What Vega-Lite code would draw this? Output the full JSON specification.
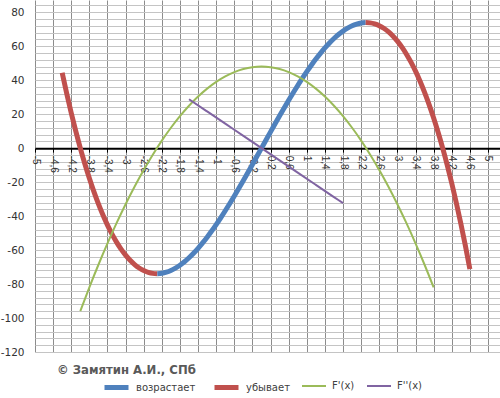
{
  "$schema": "https://vega.github.io/schema/vega-lite/v6.json",
  "autosize": "none",
  "width": 465,
  "height": 352,
  "padding": {"left": 35, "top": 0, "right": 0, "bottom": 46},
  "background": "white",
  "config": {
    "view": {"stroke": null},
    "font": "DejaVu Sans"
  },
  "title": {
    "text": "© Замятин А.И., СПб",
    "orient": "bottom",
    "anchor": "start",
    "frame": "group",
    "offset": -33,
    "dx": 22,
    "fontSize": 11.7,
    "fontWeight": "bold",
    "color": "#595959",
    "font": "DejaVu Sans"
  },
  "data": {
    "values": [
      {"x": -4.4, "y": 44.35, "s": "убывает", "g": "a"},
      {"x": -4.3, "y": 32.12, "s": "убывает", "g": "a"},
      {"x": -4.2, "y": 20.66, "s": "убывает", "g": "a"},
      {"x": -4.1, "y": 9.96, "s": "убывает", "g": "a"},
      {"x": -4.0, "y": 0, "s": "убывает", "g": "a"},
      {"x": -3.9, "y": -9.24, "s": "убывает", "g": "a"},
      {"x": -3.8, "y": -17.78, "s": "убывает", "g": "a"},
      {"x": -3.7, "y": -25.64, "s": "убывает", "g": "a"},
      {"x": -3.6, "y": -32.83, "s": "убывает", "g": "a"},
      {"x": -3.5, "y": -39.38, "s": "убывает", "g": "a"},
      {"x": -3.4, "y": -45.29, "s": "убывает", "g": "a"},
      {"x": -3.3, "y": -50.59, "s": "убывает", "g": "a"},
      {"x": -3.2, "y": -55.3, "s": "убывает", "g": "a"},
      {"x": -3.1, "y": -59.43, "s": "убывает", "g": "a"},
      {"x": -3.0, "y": -63, "s": "убывает", "g": "a"},
      {"x": -2.9, "y": -66.03, "s": "убывает", "g": "a"},
      {"x": -2.8, "y": -68.54, "s": "убывает", "g": "a"},
      {"x": -2.7, "y": -70.55, "s": "убывает", "g": "a"},
      {"x": -2.6, "y": -72.07, "s": "убывает", "g": "a"},
      {"x": -2.5, "y": -73.13, "s": "убывает", "g": "a"},
      {"x": -2.4, "y": -73.73, "s": "убывает", "g": "a"},
      {"x": -2.3, "y": -73.9, "s": "убывает", "g": "a"},
      {"x": -2.3, "y": -73.9, "s": "возрастает", "g": "b"},
      {"x": -2.2, "y": -73.66, "s": "возрастает", "g": "b"},
      {"x": -2.1, "y": -73.02, "s": "возрастает", "g": "b"},
      {"x": -2.0, "y": -72, "s": "возрастает", "g": "b"},
      {"x": -1.9, "y": -70.62, "s": "возрастает", "g": "b"},
      {"x": -1.8, "y": -68.9, "s": "возрастает", "g": "b"},
      {"x": -1.7, "y": -66.86, "s": "возрастает", "g": "b"},
      {"x": -1.6, "y": -64.51, "s": "возрастает", "g": "b"},
      {"x": -1.5, "y": -61.88, "s": "возрастает", "g": "b"},
      {"x": -1.4, "y": -58.97, "s": "возрастает", "g": "b"},
      {"x": -1.3, "y": -55.81, "s": "возрастает", "g": "b"},
      {"x": -1.2, "y": -52.42, "s": "возрастает", "g": "b"},
      {"x": -1.1, "y": -48.81, "s": "возрастает", "g": "b"},
      {"x": -1.0, "y": -45, "s": "возрастает", "g": "b"},
      {"x": -0.9, "y": -41.01, "s": "возрастает", "g": "b"},
      {"x": -0.8, "y": -36.86, "s": "возрастает", "g": "b"},
      {"x": -0.7, "y": -32.57, "s": "возрастает", "g": "b"},
      {"x": -0.6, "y": -28.15, "s": "возрастает", "g": "b"},
      {"x": -0.5, "y": -23.63, "s": "возрастает", "g": "b"},
      {"x": -0.4, "y": -19.01, "s": "возрастает", "g": "b"},
      {"x": -0.3, "y": -14.32, "s": "возрастает", "g": "b"},
      {"x": -0.2, "y": -9.58, "s": "возрастает", "g": "b"},
      {"x": -0.1, "y": -4.8, "s": "возрастает", "g": "b"},
      {"x": 0.0, "y": 0, "s": "возрастает", "g": "b"},
      {"x": 0.1, "y": 4.8, "s": "возрастает", "g": "b"},
      {"x": 0.2, "y": 9.58, "s": "возрастает", "g": "b"},
      {"x": 0.3, "y": 14.32, "s": "возрастает", "g": "b"},
      {"x": 0.4, "y": 19.01, "s": "возрастает", "g": "b"},
      {"x": 0.5, "y": 23.63, "s": "возрастает", "g": "b"},
      {"x": 0.6, "y": 28.15, "s": "возрастает", "g": "b"},
      {"x": 0.7, "y": 32.57, "s": "возрастает", "g": "b"},
      {"x": 0.8, "y": 36.86, "s": "возрастает", "g": "b"},
      {"x": 0.9, "y": 41.01, "s": "возрастает", "g": "b"},
      {"x": 1.0, "y": 45, "s": "возрастает", "g": "b"},
      {"x": 1.1, "y": 48.81, "s": "возрастает", "g": "b"},
      {"x": 1.2, "y": 52.42, "s": "возрастает", "g": "b"},
      {"x": 1.3, "y": 55.81, "s": "возрастает", "g": "b"},
      {"x": 1.4, "y": 58.97, "s": "возрастает", "g": "b"},
      {"x": 1.5, "y": 61.88, "s": "возрастает", "g": "b"},
      {"x": 1.6, "y": 64.51, "s": "возрастает", "g": "b"},
      {"x": 1.7, "y": 66.86, "s": "возрастает", "g": "b"},
      {"x": 1.8, "y": 68.9, "s": "возрастает", "g": "b"},
      {"x": 1.9, "y": 70.62, "s": "возрастает", "g": "b"},
      {"x": 2.0, "y": 72, "s": "возрастает", "g": "b"},
      {"x": 2.1, "y": 73.02, "s": "возрастает", "g": "b"},
      {"x": 2.2, "y": 73.66, "s": "возрастает", "g": "b"},
      {"x": 2.3, "y": 73.9, "s": "возрастает", "g": "b"},
      {"x": 2.3, "y": 73.9, "s": "убывает", "g": "c"},
      {"x": 2.4, "y": 73.73, "s": "убывает", "g": "c"},
      {"x": 2.5, "y": 73.13, "s": "убывает", "g": "c"},
      {"x": 2.6, "y": 72.07, "s": "убывает", "g": "c"},
      {"x": 2.7, "y": 70.55, "s": "убывает", "g": "c"},
      {"x": 2.8, "y": 68.54, "s": "убывает", "g": "c"},
      {"x": 2.9, "y": 66.03, "s": "убывает", "g": "c"},
      {"x": 3.0, "y": 63, "s": "убывает", "g": "c"},
      {"x": 3.1, "y": 59.43, "s": "убывает", "g": "c"},
      {"x": 3.2, "y": 55.3, "s": "убывает", "g": "c"},
      {"x": 3.3, "y": 50.59, "s": "убывает", "g": "c"},
      {"x": 3.4, "y": 45.29, "s": "убывает", "g": "c"},
      {"x": 3.5, "y": 39.38, "s": "убывает", "g": "c"},
      {"x": 3.6, "y": 32.83, "s": "убывает", "g": "c"},
      {"x": 3.7, "y": 25.64, "s": "убывает", "g": "c"},
      {"x": 3.8, "y": 17.78, "s": "убывает", "g": "c"},
      {"x": 3.9, "y": 9.24, "s": "убывает", "g": "c"},
      {"x": 4.0, "y": 0, "s": "убывает", "g": "c"},
      {"x": 4.1, "y": -9.96, "s": "убывает", "g": "c"},
      {"x": 4.2, "y": -20.66, "s": "убывает", "g": "c"},
      {"x": 4.3, "y": -32.12, "s": "убывает", "g": "c"},
      {"x": 4.4, "y": -44.35, "s": "убывает", "g": "c"},
      {"x": 4.5, "y": -57.38, "s": "убывает", "g": "c"},
      {"x": 4.6, "y": -71.21, "s": "убывает", "g": "c"},
      {"x": -4.0, "y": -96, "s": "F'(x)", "g": "d"},
      {"x": -3.8, "y": -81.96, "s": "F'(x)", "g": "d"},
      {"x": -3.6, "y": -68.64, "s": "F'(x)", "g": "d"},
      {"x": -3.4, "y": -56.04, "s": "F'(x)", "g": "d"},
      {"x": -3.2, "y": -44.16, "s": "F'(x)", "g": "d"},
      {"x": -3.0, "y": -33, "s": "F'(x)", "g": "d"},
      {"x": -2.8, "y": -22.56, "s": "F'(x)", "g": "d"},
      {"x": -2.6, "y": -12.84, "s": "F'(x)", "g": "d"},
      {"x": -2.4, "y": -3.84, "s": "F'(x)", "g": "d"},
      {"x": -2.2, "y": 4.44, "s": "F'(x)", "g": "d"},
      {"x": -2.0, "y": 12, "s": "F'(x)", "g": "d"},
      {"x": -1.8, "y": 18.84, "s": "F'(x)", "g": "d"},
      {"x": -1.6, "y": 24.96, "s": "F'(x)", "g": "d"},
      {"x": -1.4, "y": 30.36, "s": "F'(x)", "g": "d"},
      {"x": -1.2, "y": 35.04, "s": "F'(x)", "g": "d"},
      {"x": -1.0, "y": 39, "s": "F'(x)", "g": "d"},
      {"x": -0.8, "y": 42.24, "s": "F'(x)", "g": "d"},
      {"x": -0.6, "y": 44.76, "s": "F'(x)", "g": "d"},
      {"x": -0.4, "y": 46.56, "s": "F'(x)", "g": "d"},
      {"x": -0.2, "y": 47.64, "s": "F'(x)", "g": "d"},
      {"x": 0.0, "y": 48, "s": "F'(x)", "g": "d"},
      {"x": 0.2, "y": 47.64, "s": "F'(x)", "g": "d"},
      {"x": 0.4, "y": 46.56, "s": "F'(x)", "g": "d"},
      {"x": 0.6, "y": 44.76, "s": "F'(x)", "g": "d"},
      {"x": 0.8, "y": 42.24, "s": "F'(x)", "g": "d"},
      {"x": 1.0, "y": 39, "s": "F'(x)", "g": "d"},
      {"x": 1.2, "y": 35.04, "s": "F'(x)", "g": "d"},
      {"x": 1.4, "y": 30.36, "s": "F'(x)", "g": "d"},
      {"x": 1.6, "y": 24.96, "s": "F'(x)", "g": "d"},
      {"x": 1.8, "y": 18.84, "s": "F'(x)", "g": "d"},
      {"x": 2.0, "y": 12, "s": "F'(x)", "g": "d"},
      {"x": 2.2, "y": 4.44, "s": "F'(x)", "g": "d"},
      {"x": 2.4, "y": -3.84, "s": "F'(x)", "g": "d"},
      {"x": 2.6, "y": -12.84, "s": "F'(x)", "g": "d"},
      {"x": 2.8, "y": -22.56, "s": "F'(x)", "g": "d"},
      {"x": 3.0, "y": -33, "s": "F'(x)", "g": "d"},
      {"x": 3.2, "y": -44.16, "s": "F'(x)", "g": "d"},
      {"x": 3.4, "y": -56.04, "s": "F'(x)", "g": "d"},
      {"x": 3.6, "y": -68.64, "s": "F'(x)", "g": "d"},
      {"x": 3.8, "y": -81.96, "s": "F'(x)", "g": "d"},
      {"x": -1.6, "y": 28.8, "s": "F''(x)", "g": "e"},
      {"x": -1.2, "y": 21.6, "s": "F''(x)", "g": "e"},
      {"x": -0.8, "y": 14.4, "s": "F''(x)", "g": "e"},
      {"x": -0.4, "y": 7.2, "s": "F''(x)", "g": "e"},
      {"x": 0.0, "y": 0, "s": "F''(x)", "g": "e"},
      {"x": 0.4, "y": -7.2, "s": "F''(x)", "g": "e"},
      {"x": 0.8, "y": -14.4, "s": "F''(x)", "g": "e"},
      {"x": 1.2, "y": -21.6, "s": "F''(x)", "g": "e"},
      {"x": 1.6, "y": -28.8, "s": "F''(x)", "g": "e"},
      {"x": 1.8, "y": -32.4, "s": "F''(x)", "g": "e"}
    ]
  },
  "mark": {"type": "line", "interpolate": "monotone", "strokeCap": "butt"},
  "encoding": {
    "x": {
      "field": "x",
      "type": "quantitative",
      "scale": {"domain": [-5, 5.265], "nice": false, "zero": false},
      "axis": {
        "title": null,
        "values": [-5, -4.6, -4.2, -3.8, -3.4, -3, -2.6, -2.2, -1.8, -1.4, -1, -0.6, -0.2, 0.2, 0.6, 1, 1.4, 1.8, 2.2, 2.6, 3, 3.4, 3.8, 4.2, 4.6, 5],
        "labelExpr": "(datum.value < 0 ? '-' : '') + replace(format(abs(datum.value), '.1~f'), '.', ',')",
        "offset": -203.86,
        "labelAngle": 90,
        "labelAlign": "left",
        "labelBaseline": "middle",
        "labelFont": "Liberation Sans",
        "labelFontSize": 10,
        "labelColor": "#333333",
        "labelPadding": 3,
        "labelOverlap": false,
        "labelFlush": false,
        "domainColor": "#000000",
        "domainWidth": 2,
        "tickColor": "#000000",
        "tickSize": 4,
        "tickWidth": 1,
        "grid": true,
        "gridColor": "#8c8c8c",
        "gridWidth": 1
      }
    },
    "y": {
      "field": "y",
      "type": "quantitative",
      "scale": {"domain": [-120, 87.2], "nice": false, "zero": false},
      "axis": {
        "title": null,
        "values": [-120, -116, -112, -108, -104, -100, -96, -92, -88, -84, -80, -76, -72, -68, -64, -60, -56, -52, -48, -44, -40, -36, -32, -28, -24, -20, -16, -12, -8, -4, 0, 4, 8, 12, 16, 20, 24, 28, 32, 36, 40, 44, 48, 52, 56, 60, 64, 68, 72, 76, 80, 84],
        "labelExpr": "datum.value % 20 === 0 ? (datum.value < 0 ? '-' : '') + format(abs(datum.value), 'd') : ''",
        "labelFont": "DejaVu Sans",
        "labelFontSize": 10.5,
        "labelColor": "#333333",
        "labelPadding": 11,
        "labelOverlap": false,
        "labelFlush": false,
        "ticks": false,
        "domain": false,
        "grid": true,
        "gridColor": "#c4c4c4",
        "gridWidth": 1
      }
    },
    "color": {
      "field": "s",
      "type": "nominal",
      "scale": {"domain": ["возрастает", "убывает", "F'(x)", "F''(x)"], "range": ["#4f81bd", "#c0504d", "#9bbb59", "#8064a2"]},
      "legend": {
        "title": null,
        "orient": "none",
        "direction": "horizontal",
        "legendX": 67,
        "legendY": 373,
        "symbolType": "stroke",
        "symbolSize": 576,
        "labelFont": "DejaVu Sans",
        "labelFontSize": 10,
        "labelColor": "#404040",
        "labelOffset": 5,
        "columnPadding": 8,
        "gridAlign": "none"
      }
    },
    "strokeWidth": {
      "field": "s",
      "type": "nominal",
      "scale": {"type": "ordinal", "domain": ["возрастает", "убывает", "F'(x)", "F''(x)"], "range": [5, 5, 2, 2]}
    },
    "detail": {"field": "g"},
    "order": {"field": "x", "type": "quantitative"}
  }
}
